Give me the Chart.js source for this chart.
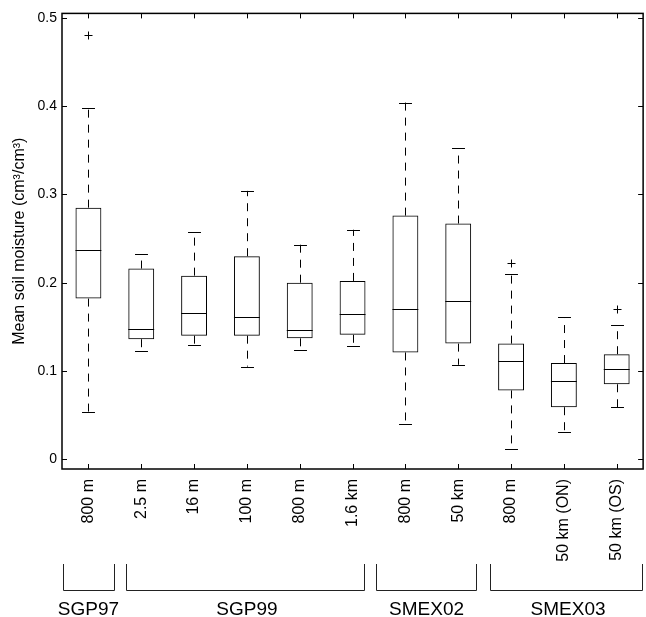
<!DOCTYPE html>
<html>
<head>
<meta charset="utf-8">
<script src="https://cdn.jsdelivr.net/npm/chart.js@4.4.0/dist/chart.umd.min.js"></script>
<style>
  body { margin: 0; background: #fff; }
  #wrap { width: 646px; height: 617px; }
</style>
</head>
<body>
<div id="wrap"><canvas id="box-chart" width="646" height="617"></canvas></div>
<script>
// sites / sampling scales
var labels = ['800 m', '2.5 m', '16 m', '100 m', '800 m', '1.6 km', '800 m', '50 km', '800 m', '50 km (ON)', '50 km (OS)'];

// box plot stats (cm3/cm3)
var lowerWhisker = [0.053, 0.123, 0.129, 0.105, 0.124, 0.128, 0.040, 0.107, 0.012, 0.031, 0.059];
var q1 = [0.182, 0.136, 0.140, 0.140, 0.137, 0.141, 0.121, 0.131, 0.078, 0.059, 0.085];
var median = [0.237, 0.148, 0.166, 0.161, 0.146, 0.164, 0.170, 0.179, 0.111, 0.089, 0.102];
var q3 = [0.285, 0.216, 0.208, 0.230, 0.200, 0.202, 0.276, 0.267, 0.131, 0.109, 0.119];
var upperWhisker = [0.398, 0.232, 0.257, 0.304, 0.243, 0.260, 0.404, 0.352, 0.210, 0.161, 0.152];
var outliers = [[0.481], [], [], [], [], [], [], [], [0.222], [], [0.170]];

var yTicks = [0, 0.1, 0.2, 0.3, 0.4, 0.5];

// experiment groups under the axis (positions in category units)
var groupNames = ['SGP97', 'SGP99', 'SMEX02', 'SMEX03'];
var groupFrom = [-0.48, 0.72, 5.45, 7.6];
var groupTo = [0.49, 5.22, 7.34, 10.48];
var groupMid = [0, 3, 6.4, 9.08];

var FONT = '"Liberation Sans", Arial, Helvetica, sans-serif';

var boxPlugin = {
  id: 'boxparts',
  afterDatasetsDraw: function(chart) {
    var ctx = chart.ctx;
    var x = chart.scales.x, y = chart.scales.y;
    var bars = chart.getDatasetMeta(0).data;
    ctx.save();
    ctx.strokeStyle = '#000';
    ctx.lineWidth = 1;
    for (var i = 0; i < labels.length; i++) {
      var cx = Math.round(bars[i].x) + 0.5;
      var hw = bars[i].width / 2;
      var cap = bars[i].width / 4;
      // dashed whiskers
      ctx.setLineDash([8, 7]);
      ctx.beginPath();
      ctx.moveTo(cx, y.getPixelForValue(q3[i]));
      ctx.lineTo(cx, y.getPixelForValue(upperWhisker[i]));
      ctx.moveTo(cx, y.getPixelForValue(q1[i]));
      ctx.lineTo(cx, y.getPixelForValue(lowerWhisker[i]));
      ctx.stroke();
      ctx.setLineDash([]);
      // caps
      var yu = Math.round(y.getPixelForValue(upperWhisker[i])) + 0.5;
      var yl = Math.round(y.getPixelForValue(lowerWhisker[i])) + 0.5;
      ctx.beginPath();
      ctx.moveTo(cx - cap, yu); ctx.lineTo(cx + cap, yu);
      ctx.moveTo(cx - cap, yl); ctx.lineTo(cx + cap, yl);
      // median
      var ym = Math.round(y.getPixelForValue(median[i])) + 0.5;
      ctx.moveTo(bars[i].x - hw, ym); ctx.lineTo(bars[i].x + hw, ym);
      ctx.stroke();
      // outliers as +
      outliers[i].forEach(function(v) {
        var yo = Math.round(y.getPixelForValue(v)) + 0.5;
        ctx.beginPath();
        ctx.moveTo(cx - 4, yo); ctx.lineTo(cx + 4, yo);
        ctx.moveTo(cx, yo - 4); ctx.lineTo(cx, yo + 4);
        ctx.stroke();
      });
    }
    ctx.restore();
  },
  afterDraw: function(chart) {
    var ctx = chart.ctx;
    var a = chart.chartArea;
    var x = chart.scales.x, y = chart.scales.y;
    ctx.save();
    // axes box
    ctx.strokeStyle = '#000';
    ctx.lineWidth = 1.5;
    ctx.strokeRect(a.left, a.top, a.right - a.left, a.bottom - a.top);
    // inward ticks
    ctx.lineWidth = 1;
    ctx.beginPath();
    yTicks.forEach(function(v) {
      var py = Math.round(y.getPixelForValue(v)) + 0.5;
      ctx.moveTo(a.left, py); ctx.lineTo(a.left + 5, py);
      ctx.moveTo(a.right, py); ctx.lineTo(a.right - 5, py);
    });
    for (var i = 0; i < labels.length; i++) {
      var px = Math.round(x.getPixelForValue(i)) + 0.5;
      ctx.moveTo(px, a.bottom); ctx.lineTo(px, a.bottom - 5);
      ctx.moveTo(px, a.top); ctx.lineTo(px, a.top + 5);
    }
    ctx.stroke();
    // group brackets
    ctx.strokeStyle = '#222';
    ctx.beginPath();
    for (var g = 0; g < groupNames.length; g++) {
      var x0 = Math.round(x.getPixelForValue(groupFrom[g])) + 0.5;
      var x1 = Math.round(x.getPixelForValue(groupTo[g])) + 0.5;
      ctx.moveTo(x0, 564); ctx.lineTo(x0, 590.5); ctx.lineTo(x1, 590.5); ctx.lineTo(x1, 564);
    }
    ctx.stroke();
    ctx.fillStyle = '#000';
    ctx.font = '19px ' + FONT;
    ctx.textAlign = 'center';
    ctx.textBaseline = 'alphabetic';
    for (var g = 0; g < groupNames.length; g++) {
      ctx.fillText(groupNames[g], x.getPixelForValue(groupMid[g]), 615);
    }
    ctx.restore();
  }
};

new Chart(document.getElementById('box-chart'), {
  type: 'bar',
  data: {
    labels: labels,
    datasets: [{
      label: 'IQR',
      data: q1.map(function(v, i) { return [v, q3[i]]; }),
      backgroundColor: 'rgba(255,255,255,0)',
      borderColor: '#000',
      borderWidth: 1,
      borderSkipped: false,
      barPercentage: 0.49,
      categoryPercentage: 1
    }]
  },
  options: {
    responsive: false,
    animation: false,
    layout: { padding: { top: 11, right: 2, left: 0, bottom: 0 } },
    plugins: {
      legend: { display: false },
      tooltip: { enabled: false }
    },
    scales: {
      x: {
        grid: { display: false, drawTicks: false },
        border: { display: false },
        ticks: {
          autoSkip: false,
          minRotation: 90,
          maxRotation: 90,
          padding: 10,
          color: '#000',
          font: { family: FONT, size: 16 }
        },
        afterFit: function(scale) { scale.height = 148; }
      },
      y: {
        min: -0.011,
        max: 0.505,
        grid: { display: false, drawTicks: false },
        border: { display: false },
        afterBuildTicks: function(scale) {
          scale.ticks = yTicks.map(function(v) { return { value: v }; });
        },
        ticks: {
          padding: 5,
          color: '#000',
          font: { family: FONT, size: 14 },
          callback: function(v) { return v === 0 ? '0' : v.toFixed(1); }
        },
        title: {
          display: true,
          text: 'Mean soil moisture (cm³/cm³)',
          color: '#000',
          font: { family: FONT, size: 16 },
          padding: { top: 10, bottom: 0 }
        },
        afterFit: function(scale) { scale.width = 62; }
      }
    }
  },
  plugins: [boxPlugin]
});
</script>
</body>
</html>
